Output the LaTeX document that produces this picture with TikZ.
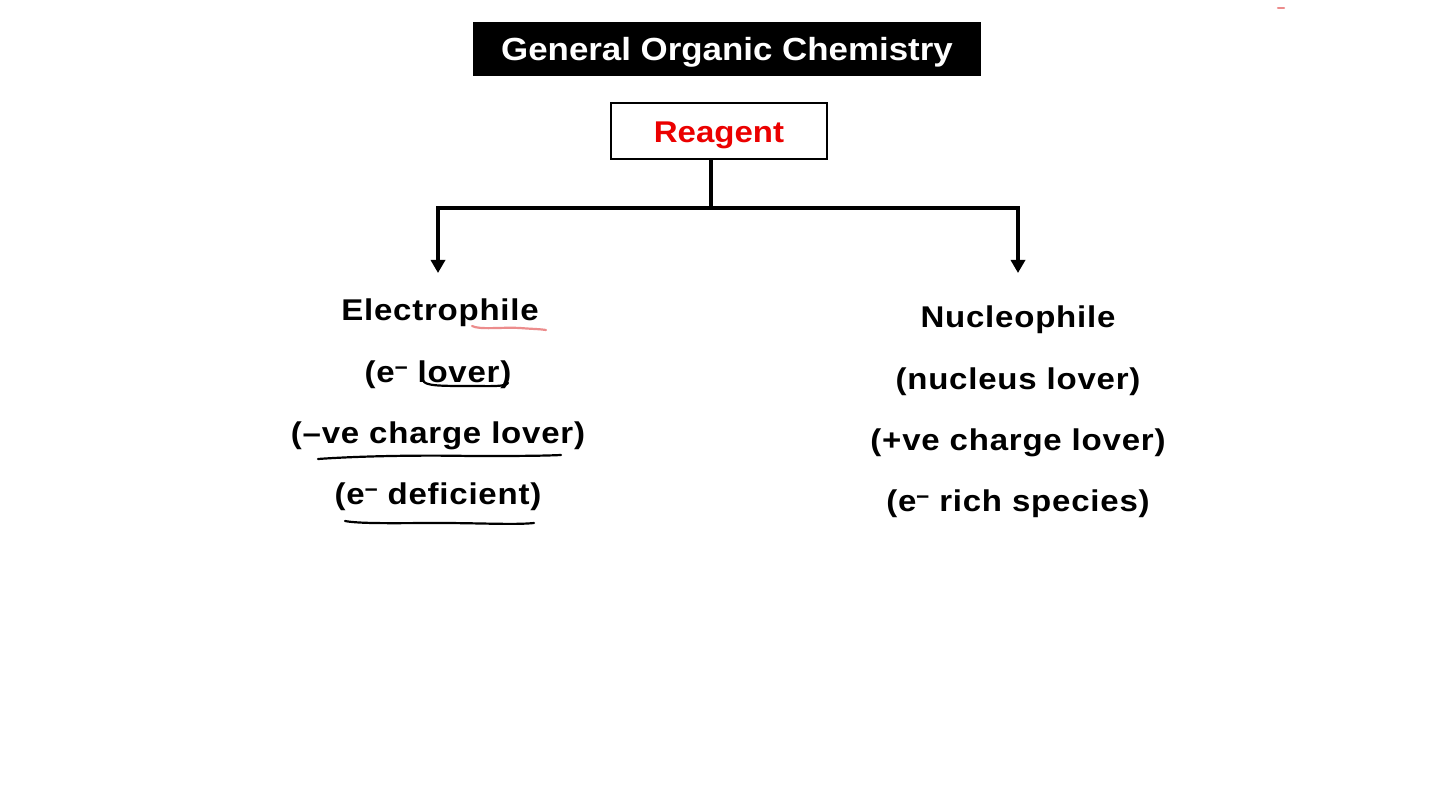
\documentclass[tikz,border=0pt]{standalone}
\usepackage{fontspec}
\newfontfamily\titlefont{Liberation Sans Bold}[FakeStretch=1.09]
\newfontfamily\reagfont{Liberation Sans Bold}[FakeStretch=1.1]
\newfontfamily\bodyfont{Liberation Sans Bold}[FakeStretch=1.1, LetterSpace=2.6]
\usetikzlibrary{arrows.meta}
\definecolor{regred}{RGB}{235,0,0}
\definecolor{penpink}{RGB}{236,140,140}
\newcommand{\eminus}{e\raisebox{0.5ex}{\scalebox{0.7}[0.8]{–}}}
\tikzset{
  bodytext/.style={font=\bodyfont\fontsize{30}{34}\selectfont, inner sep=0pt, anchor=base},
  branch/.style={line width=3.8pt, -{Triangle[length=13pt,width=14pt]}},
  pen/.style={line width=2.2pt, line cap=round, line join=round},
}
\begin{document}
\begin{tikzpicture}[x=1pt,y=-1pt]
\useasboundingbox (0,0) rectangle (1440,810);
\fill[white] (0,0) rectangle (1440,810);

\node[fill=black, minimum width=508pt, minimum height=54pt, inner sep=0pt,
  text height=24pt, text depth=0pt,
  text=white, font=\titlefont\fontsize{32}{36}\selectfont] (title) at (727,49) {General Organic Chemistry};

\node[draw=black, line width=1.2pt, fill=white, minimum width=216pt, minimum height=56pt, inner sep=0pt,
  text height=22.6pt, text depth=0pt,
  text=regred, font=\reagfont\fontsize{30}{34}\selectfont] (reagent) at (719,131) {Reagent};

\coordinate (split) at (711,208);
\coordinate (lft) at (438,208);
\coordinate (rgt) at (1018,208);
\coordinate (lend) at (438,273);
\coordinate (rend) at (1018,273);
\draw[line width=3.8pt] (reagent.south -| split) -- (split);
\draw[line width=3.8pt, line cap=rect] (lft) -- (rgt);
\draw[branch] (lft) -- (lend);
\draw[branch] (rgt) -- (rend);

% left column
\node[bodytext] (e1) at (440,320) {Electrophile};
\node[bodytext] (e2) at (438,382) {(\eminus{} lover)};
\node[bodytext] (e3) at (438,443) {(–ve charge lover)};
\node[bodytext] (e4) at (438,504) {(\eminus{} deficient)};

% right column
\node[bodytext] (n1) at (1018,327) {Nucleophile};
\node[bodytext] (n2) at (1018,389) {(nucleus lover)};
\node[bodytext] (n3) at (1018,450) {(+ve charge lover)};
\node[bodytext] (n4) at (1018,511) {(\eminus{} rich species)};

% handwritten underlines
\draw[pen, penpink] (472,326) .. controls (480,330) and (500,327) .. (520,328) .. controls (532,329) and (540,329) .. (546,330);
\draw[pen] (423,380) .. controls (424,386) and (440,386) .. (470,386) .. controls (490,386) and (505,387) .. (508,383);
\draw[pen] (318,459) .. controls (360,456) and (420,455) .. (470,456) .. controls (510,456) and (540,456) .. (561,455);
\draw[pen] (345,521) .. controls (360,524) and (400,523) .. (440,523) .. controls (480,523) and (515,525) .. (534,523);
\draw[pen, penpink] (1278,8) -- (1284,8);
\end{tikzpicture}
\end{document}
